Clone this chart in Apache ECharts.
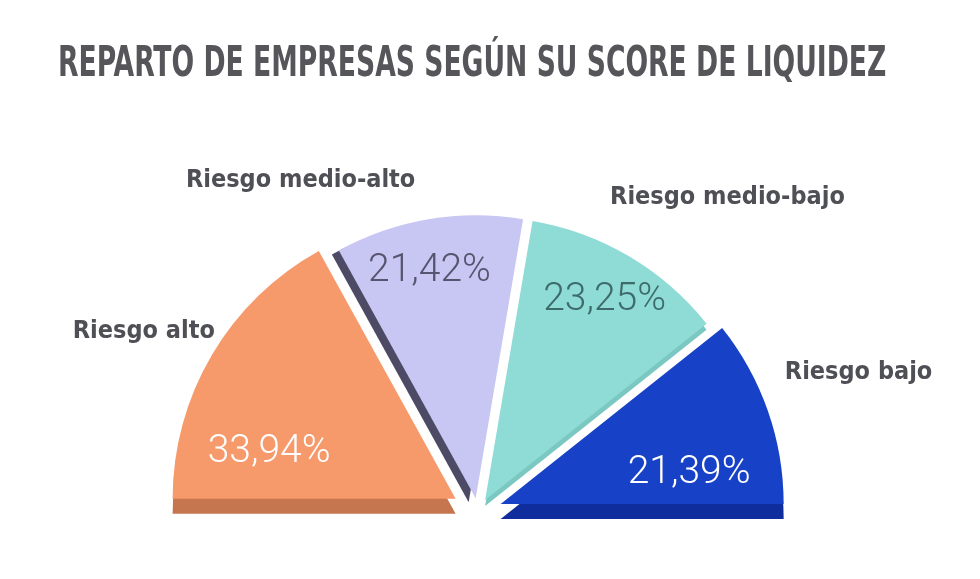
<!DOCTYPE html>
<html>
<head>
<meta charset="utf-8">
<script src="https://cdn.jsdelivr.net/npm/echarts@6/dist/echarts.min.js"></script>
<style>
  html, body { margin: 0; padding: 0; background: #fff; }
  #main { width: 980px; height: 579px; }
</style>
</head>
<body>
<div id="main"></div>
<script>
// datos
const categories = ['Riesgo alto', 'Riesgo medio-alto', 'Riesgo medio-bajo', 'Riesgo bajo'];
const shares = [33.94, 21.42, 23.25, 21.39];
const titleText = 'REPARTO DE EMPRESAS SEGÚN SU SCORE DE LIQUIDEZ';

// estilos
const faceColors = ['#f6996b', '#c8c6f2', '#8fdbd6', '#1741c6'];
const sideColors = ['#c5764f', '#4d4a66', '#7bc8c3', '#0f2d9c'];
const pctColors = ['#ffffff', '#57546f', '#3d6b69', '#ffffff'];
const explode = [26, 14, 14, 24];
// desplazamiento de la cara lateral (efecto 3D)
const sideShift = [[0, 15], [-7, 4], [0, 6], [0, 15]];
const pctNudge = [[-62, 27], [-22, -84], [46, -75], [52, 17]];

const condensed = "'DejaVu Sans Condensed', 'DejaVu Sans', sans-serif";
const center = [478, 512];
const radius = 283;

function sliceData (i, colors, withLabel) {
  return shares.map((v, j) => ({
    name: categories[j],
    value: v,
    selected: j === i,
    itemStyle: { color: j === i ? colors[j] : 'transparent' },
    label: { show: withLabel && j === i }
  }))
}

let series = []
// caras laterales (profundidad) + etiquetas de nombre
categories.forEach((c, i) => {
  const s = sideShift[i]
  series.push({
    type: 'pie',
    z: 1,
    startAngle: 180,
    endAngle: 360,
    radius: radius,
    center: [center[0] + s[0], center[1] + s[1]],
    selectedMode: 'single',
    selectedOffset: explode[i],
    emphasis: { scale: false },
    select: { itemStyle: { borderWidth: 0 } },
    label: {
      position: 'outside',
      formatter: '{b}',
      fontFamily: condensed,
      fontWeight: 'bold',
      fontSize: 25,
      color: '#4f4f56'
    },
    labelLine: { show: false, length: 0, length2: 0 },
    labelLayout: (p) => {
      // la etiqueta de nombre se coloca respecto a la cara superior
      const n = [[8, -23], [-8, -39], [-24, -59], [12, -38]][p.dataIndex]
      return { dx: n[0] - s[0], dy: n[1] - s[1] }
    },
    data: sliceData(i, sideColors, true)
  })
})
// caras superiores + porcentajes
categories.forEach((c, i) => {
  series.push({
    type: 'pie',
    z: 2,
    startAngle: 180,
    endAngle: 360,
    radius: radius,
    center: center,
    selectedMode: 'single',
    selectedOffset: explode[i],
    emphasis: { scale: false },
    select: { itemStyle: { borderWidth: 0 } },
    label: {
      position: 'inside',
      formatter: (p) => p.value.toFixed(2).replace('.', ',') + '%',
      fontFamily: 'Roboto, sans-serif',
      fontWeight: 300,
      fontSize: 39,
      color: pctColors[i]
    },
    labelLine: { show: false },
    labelLayout: (p) => ({ dx: pctNudge[p.dataIndex][0], dy: pctNudge[p.dataIndex][1] }),
    data: sliceData(i, faceColors, true)
  })
})

const chart = echarts.init(document.getElementById('main'))
chart.setOption({
  backgroundColor: '#ffffff',
  animation: false,
  graphic: [{
    type: 'text',
    x: 58,
    y: 44,
    scaleX: 0.705,
    style: {
      text: titleText,
      fontFamily: condensed,
      fontWeight: 'bold',
      fontSize: 42,
      fill: '#56565a'
    }
  }],
  series: series
})
</script>
</body>
</html>
